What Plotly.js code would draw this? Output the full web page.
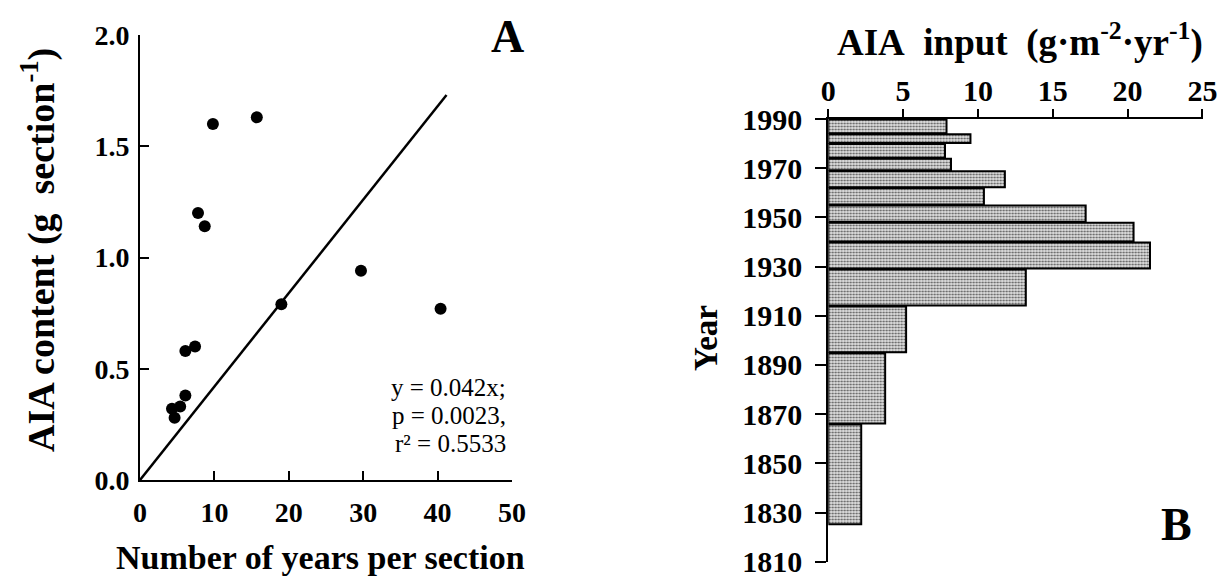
<!DOCTYPE html>
<html><head><meta charset="utf-8">
<script src="https://cdn.plot.ly/plotly-3.0.1.min.js"></script>
<style>html,body{margin:0;padding:0;background:#fff}</style>
</head><body><div id="chart" style="width:1217px;height:586px"></div>
<script>
// ---- Panel A data ----
const yearsPerSection = [9.8, 15.7, 7.8, 8.7, 29.7, 19.0, 40.4, 7.4, 6.1, 6.1, 5.4, 4.3, 4.65];
const aiaContent      = [1.60, 1.63, 1.20, 1.14, 0.94, 0.79, 0.77, 0.60, 0.58, 0.38, 0.33, 0.32, 0.28];
const fitSlope = 0.042;
const fitXRange = [0, 41.2];
const fitLabels = ['y = 0.042x;', 'p = 0.0023,', 'r² = 0.5533'];
const xTicksA = [0, 10, 20, 30, 40, 50];
const yTicksA = [0, 0.5, 1, 1.5, 2];
const yTickTextA = ['0.0', '0.5', '1.0', '1.5', '2.0'];

// ---- Panel B data ----
const sectionTop    = [1990, 1984, 1980, 1974, 1969, 1962, 1955, 1948, 1940, 1929, 1914, 1895, 1866];
const sectionBottom = [1984, 1980, 1974, 1969, 1962, 1955, 1948, 1940, 1929, 1914, 1895, 1866, 1825];
const aiaInput      = [7.9, 9.5, 7.8, 8.2, 11.8, 10.4, 17.2, 20.4, 21.5, 13.2, 5.2, 3.8, 2.2];
const xTicksB = [0, 5, 10, 15, 20, 25];
const yTicksB = [1810, 1830, 1850, 1870, 1890, 1910, 1930, 1950, 1970, 1990];

const W = 1217, H = 586;
const fx = p => p / W;
const fy = p => 1 - p / H;
const SERIF = '"Liberation Serif", "Times New Roman", serif';
const GAP = 0.4;

const traces = [
  {
    type: 'scatter', mode: 'lines', x: fitXRange, y: fitXRange.map(v => fitSlope * v),
    xaxis: 'x', yaxis: 'y', line: {color: '#000', width: 2.5}, hoverinfo: 'skip'
  },
  {
    type: 'scatter', mode: 'markers', x: yearsPerSection, y: aiaContent,
    xaxis: 'x', yaxis: 'y', marker: {color: '#000', size: 12}
  },
  {
    type: 'bar', orientation: 'h', xaxis: 'x2', yaxis: 'y2',
    x: aiaInput,
    y: sectionTop.map((t, i) => (t + sectionBottom[i]) / 2),
    width: sectionTop.map((t, i) => (t - sectionBottom[i]) - GAP),
    marker: {
      color: '#d0d0d0',
      line: {color: '#000', width: 2},
      pattern: {shape: '.', fgcolor: '#5a5a5a', bgcolor: '#e4e4e4', size: 3, solidity: 0.4, fillmode: 'replace'}
    }
  }
];

const axBase = {
  showline: true, linecolor: '#000', linewidth: 2, showgrid: false, zeroline: false,
  tickcolor: '#000', tickwidth: 2, fixedrange: true, ticklabeloverflow: 'allow'
};

const layout = {
  width: W, height: H, margin: {l: 0, r: 0, t: 0, b: 0},
  showlegend: false, paper_bgcolor: '#fff', plot_bgcolor: 'rgba(0,0,0,0)',
  font: {family: SERIF, color: '#000'},
  bargap: 0,
  xaxis: Object.assign({}, axBase, {
    domain: [fx(140), fx(512)], range: [0, 50], anchor: 'y',
    tickmode: 'array', tickvals: xTicksA, ticks: 'inside', ticklen: 9,
    tickfont: {family: SERIF, size: 28, weight: 'bold'}, ticklabelstandoff: 6
  }),
  yaxis: Object.assign({}, axBase, {
    domain: [fy(480), fy(35)], range: [0, 2], anchor: 'x',
    tickmode: 'array', tickvals: yTicksA, ticktext: yTickTextA, ticks: 'inside', ticklen: 9,
    tickfont: {family: SERIF, size: 28, weight: 'bold'}, ticklabelstandoff: 3
  }),
  xaxis2: Object.assign({}, axBase, {
    domain: [fx(828.3), fx(1202.7)], range: [0, 25.02], anchor: 'y2', side: 'top',
    tickmode: 'array', tickvals: xTicksB, ticks: 'outside', ticklen: 8,
    tickfont: {family: SERIF, size: 30, weight: 'bold'}, ticklabelstandoff: -4
  }),
  yaxis2: Object.assign({}, axBase, {
    domain: [fy(561.7), fy(119)], range: [1810, 1990], anchor: 'x2',
    tickmode: 'array', tickvals: yTicksB, ticks: 'outside', ticklen: 11,
    tickfont: {family: SERIF, size: 30, weight: 'bold'}, ticklabelstandoff: 7
  }),
  annotations: [
    {text: 'Number of years per section', xref: 'paper', yref: 'paper', x: fx(320), y: fy(557),
     xanchor: 'center', yanchor: 'middle', showarrow: false, font: {family: SERIF, size: 34, weight: 'bold'}},
    {text: 'AIA content (g&nbsp;&nbsp;section<sup>-1</sup>)', xref: 'paper', yref: 'paper', x: fx(38), y: fy(250),
     xanchor: 'center', yanchor: 'middle', textangle: -90, showarrow: false, font: {family: SERIF, size: 38, weight: 'bold'}},
    {text: 'AIA&nbsp;&nbsp;input&nbsp;&nbsp;(g·m<sup>-2</sup>·yr<sup>-1</sup>)', xref: 'paper', yref: 'paper', x: fx(1020), y: fy(40),
     xanchor: 'center', yanchor: 'middle', showarrow: false, font: {family: SERIF, size: 37, weight: 'bold'}},
    {text: 'Year', xref: 'paper', yref: 'paper', x: fx(706), y: fy(338),
     xanchor: 'center', yanchor: 'middle', textangle: -90, showarrow: false, font: {family: SERIF, size: 33, weight: 'bold'}},
    {text: 'A', xref: 'paper', yref: 'paper', x: fx(507), y: fy(36),
     xanchor: 'center', yanchor: 'middle', showarrow: false, font: {family: SERIF, size: 46, weight: 'bold'}},
    {text: 'B', xref: 'paper', yref: 'paper', x: fx(1176), y: fy(524),
     xanchor: 'center', yanchor: 'middle', showarrow: false, font: {family: SERIF, size: 46, weight: 'bold'}}
  ].concat(fitLabels.map((t, i) => ({
    text: t, xref: 'paper', yref: 'paper', x: fx(508), y: fy(387 + 28.3 * i),
    xanchor: 'right', yanchor: 'middle', showarrow: false, font: {family: SERIF, size: 25}
  })))
};

Plotly.newPlot('chart', traces, layout, {staticPlot: true, displayModeBar: false});
</script>
</body></html>
